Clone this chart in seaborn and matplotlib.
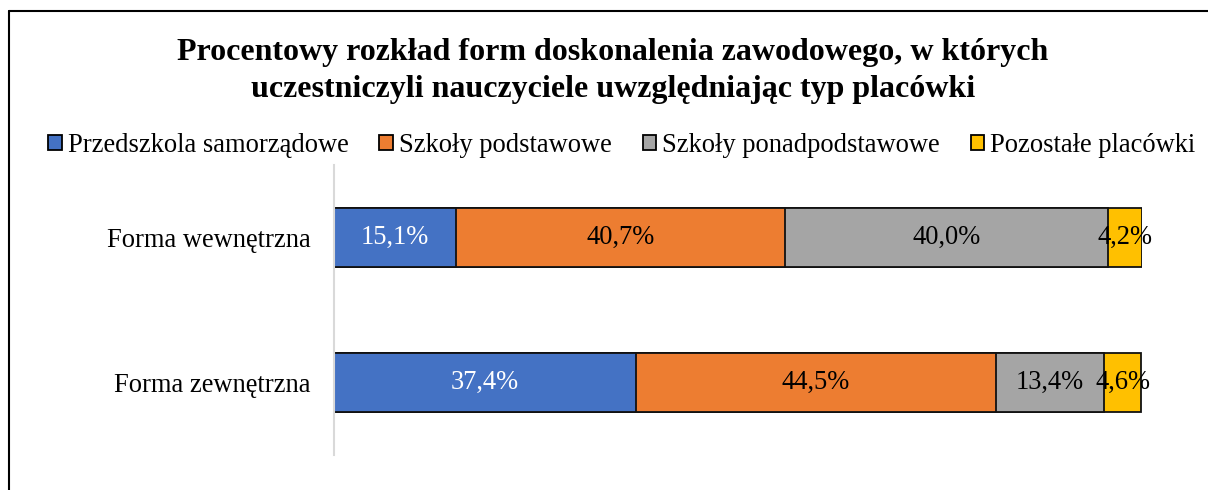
import matplotlib
matplotlib.use("Agg")
import matplotlib.pyplot as plt
from matplotlib.patches import Patch
from matplotlib.lines import Line2D
import seaborn as sns
import pandas as pd
import numpy as np

categories = ["Forma wewnętrzna", "Forma zewnętrzna"]
series_names = ["Przedszkola samorządowe", "Szkoły podstawowe",
                "Szkoły ponadpodstawowe", "Pozostałe placówki"]
przedszkola = [15.1, 37.4]
podstawowe = [40.7, 44.5]
ponadpodstawowe = [40.0, 13.4]
pozostale = [4.2, 4.6]
title_text = ("Procentowy rozkład form doskonalenia zawodowego, w których\n"
              "uczestniczyli nauczyciele uwzględniając typ placówki")

colors = ["#4472C4", "#ED7D31", "#A5A5A5", "#FFC000"]
label_colors = ["white", "black", "black", "black"]

sns.set_theme(style="white")
plt.rcParams["font.family"] = ["Liberation Serif", "DejaVu Serif"]
plt.rcParams["text.color"] = "black"
plt.rcParams["ytick.color"] = "black"
plt.rcParams["xtick.color"] = "black"
plt.rcParams["axes.labelcolor"] = "black"

FS = 19.1
W, H = 1208, 490
fig = plt.figure(figsize=(W / 100, H / 100), dpi=100)
ax = fig.add_axes([334 / W, 1 - 455 / H, 808 / W, 290 / H])

values = np.array([przedszkola, podstawowe, ponadpodstawowe, pozostale])
cum = np.cumsum(values, axis=0)

# draw cumulative bars from the longest to shortest so segments show
for i in range(len(series_names) - 1, -1, -1):
    df = pd.DataFrame({"cat": categories, "val": cum[i]})
    sns.barplot(data=df, y="cat", x="val", orient="h", color=colors[i],
                saturation=1, width=0.41, edgecolor="#111111", linewidth=1.3,
                ax=ax, order=categories)

for i in range(len(series_names)):
    for j, cat in enumerate(categories):
        v = values[i][j]
        cx = cum[i][j] - v / 2
        ax.text(cx, j, f"{v:.1f}%".replace(".", ","), ha="center", va="center",
                fontsize=FS, color=label_colors[i])

ax.set_xlim(0, 100)
ax.set_ylim(1.5, -0.5)
ax.set_xlabel("")
ax.set_ylabel("")
ax.set_xticks([])
for s in ["top", "right", "bottom"]:
    ax.spines[s].set_visible(False)
ax.spines["left"].set_color("#D9D9D9")
ax.spines["left"].set_linewidth(1.5)
ax.tick_params(axis="y", length=0, pad=17, labelsize=FS, labelcolor="black")

handles = [Patch(facecolor=c, edgecolor="black", linewidth=1.3) for c in colors]
fig.legend(handles, series_names, loc="center", ncol=4,
           bbox_to_anchor=(622 / W, 1 - 145 / H), frameon=False,
           fontsize=FS, handlelength=0.5, handleheight=0.5,
           handletextpad=0.25, columnspacing=1.15, borderaxespad=0, borderpad=0)

fig.text(613 / W, 1 - 71 / H, title_text, ha="center", va="center",
         fontsize=23, fontweight="bold", linespacing=1.37, color="black")

# chart border (left and top visible)
fig.add_artist(Line2D([9 / W, 9 / W], [-0.1, 1 - 11 / H], color="black",
                      linewidth=1.5, transform=fig.transFigure))
fig.add_artist(Line2D([9 / W, 1.1], [1 - 11 / H, 1 - 11 / H], color="black",
                      linewidth=1.5, transform=fig.transFigure))

fig.savefig("out.png", dpi=100)
